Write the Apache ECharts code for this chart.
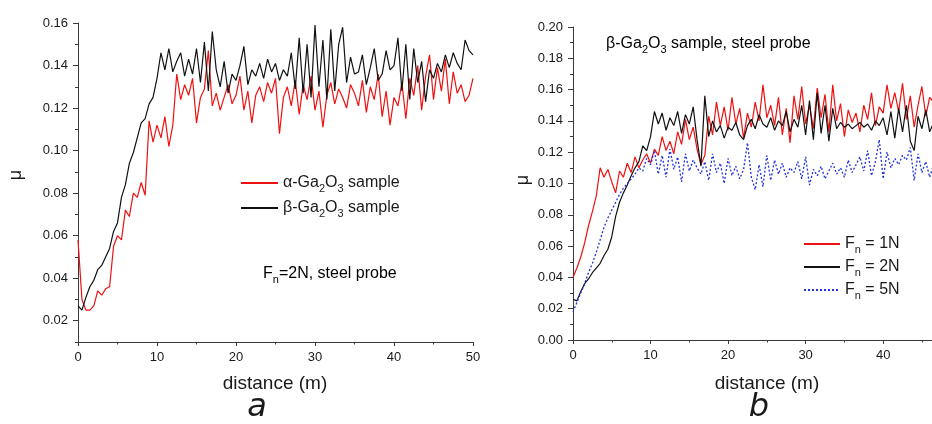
<!DOCTYPE html>
<html><head><meta charset="utf-8">
<script src="https://cdn.jsdelivr.net/npm/echarts@6/dist/echarts.min.js"></script>
<style>html,body{margin:0;padding:0;background:#fff}#c{width:932px;height:424px}</style>
</head><body><div id="c"></div>
<script>
// ---------- data ----------
// panel a: sampled every 0.5 m, 0..50 m
const stepA = 0.5;
const muAlphaA = [
0.058,0.030,0.025,0.025,0.027,0.034,0.032,0.035,0.036,0.055,
0.060,0.058,0.072,0.069,0.080,0.078,0.085,0.079,0.114,0.104,
0.112,0.106,0.116,0.102,0.112,0.136,0.124,0.131,0.126,0.134,
0.113,0.125,0.129,0.147,0.121,0.127,0.119,0.125,0.131,0.122,
0.126,0.135,0.119,0.128,0.113,0.126,0.130,0.123,0.132,0.127,
0.134,0.108,0.125,0.130,0.121,0.133,0.117,0.131,0.124,0.135,
0.119,0.128,0.111,0.126,0.132,0.122,0.129,0.125,0.120,0.131,
0.127,0.121,0.133,0.118,0.130,0.124,0.136,0.116,0.128,0.112,
0.125,0.121,0.132,0.115,0.134,0.126,0.140,0.119,0.135,0.145,
0.124,0.139,0.128,0.143,0.122,0.137,0.127,0.131,0.123,0.126,
0.134];
const muBetaA = [
0.027,0.025,0.031,0.036,0.039,0.044,0.046,0.050,0.054,0.062,
0.066,0.078,0.084,0.094,0.099,0.106,0.113,0.115,0.122,0.125,
0.134,0.146,0.138,0.148,0.137,0.142,0.146,0.135,0.143,0.136,
0.148,0.132,0.151,0.128,0.156,0.138,0.130,0.142,0.127,0.136,
0.133,0.140,0.149,0.131,0.138,0.135,0.141,0.134,0.143,0.137,
0.141,0.133,0.138,0.135,0.146,0.129,0.153,0.127,0.150,0.125,
0.159,0.130,0.152,0.124,0.157,0.128,0.150,0.158,0.132,0.144,
0.136,0.137,0.145,0.131,0.139,0.148,0.133,0.136,0.147,0.138,
0.140,0.153,0.128,0.150,0.124,0.148,0.132,0.142,0.123,0.138,
0.134,0.141,0.137,0.145,0.139,0.146,0.141,0.138,0.152,0.147,
0.145];
// panel b: sampled every 0.5 m, 0..46.5 m
const stepB = 0.5;
const mu1N = [
0.040,0.046,0.053,0.062,0.073,0.082,0.092,0.110,0.104,0.109,
0.101,0.094,0.108,0.104,0.113,0.107,0.117,0.110,0.115,0.119,
0.113,0.122,0.118,0.130,0.121,0.127,0.119,0.133,0.125,0.141,
0.128,0.136,0.122,0.112,0.118,0.143,0.131,0.152,0.137,0.149,
0.134,0.155,0.138,0.148,0.129,0.145,0.136,0.152,0.140,0.163,
0.142,0.150,0.137,0.155,0.131,0.148,0.126,0.156,0.141,0.162,
0.138,0.150,0.135,0.161,0.142,0.157,0.133,0.163,0.140,0.151,
0.130,0.147,0.139,0.145,0.133,0.150,0.141,0.158,0.137,0.149,
0.145,0.163,0.148,0.158,0.146,0.164,0.141,0.156,0.136,0.150,
0.162,0.143,0.155,0.152];
const mu2N = [
0.026,0.025,0.031,0.036,0.039,0.043,0.046,0.049,0.054,0.058,
0.066,0.079,0.088,0.094,0.099,0.105,0.110,0.114,0.124,0.121,
0.130,0.146,0.138,0.145,0.134,0.142,0.137,0.146,0.132,0.144,
0.138,0.149,0.128,0.111,0.156,0.130,0.140,0.133,0.137,0.129,
0.136,0.134,0.139,0.131,0.128,0.137,0.141,0.135,0.144,0.138,
0.136,0.142,0.134,0.140,0.137,0.146,0.133,0.141,0.136,0.150,
0.131,0.153,0.128,0.158,0.132,0.150,0.127,0.148,0.135,0.139,
0.136,0.138,0.135,0.137,0.139,0.136,0.138,0.134,0.140,0.137,
0.142,0.131,0.146,0.129,0.148,0.133,0.150,0.127,0.121,0.143,
0.135,0.147,0.133,0.139];
const mu5N = [
0.018,0.024,0.030,0.036,0.043,0.049,0.056,0.064,0.072,0.078,
0.083,0.088,0.093,0.097,0.100,0.103,0.106,0.110,0.108,0.116,
0.112,0.121,0.106,0.118,0.104,0.122,0.109,0.117,0.101,0.119,
0.108,0.115,0.110,0.106,0.114,0.102,0.119,0.107,0.113,0.100,
0.116,0.105,0.111,0.103,0.109,0.126,0.104,0.096,0.112,0.098,
0.118,0.102,0.115,0.106,0.113,0.104,0.110,0.107,0.114,0.103,
0.117,0.099,0.109,0.105,0.111,0.103,0.108,0.113,0.106,0.110,
0.104,0.115,0.107,0.112,0.117,0.108,0.121,0.105,0.114,0.128,
0.103,0.120,0.110,0.116,0.112,0.118,0.115,0.123,0.102,0.119,
0.107,0.114,0.104,0.112];
// tick labels
const yTicksA = [0.02,0.04,0.06,0.08,0.10,0.12,0.14,0.16];
const yMinorA = [0.01,0.03,0.05,0.07,0.09,0.11,0.13,0.15];
const xTicksA = [0,10,20,30,40,50];
const xTicksB = [0,10,20,30,40];
const xMinorB = [5,15,25,35,45];
const namesA = ['α-Ga2O3 sample','β-Ga2O3 sample'];
const namesB = ['Fn = 1N','Fn = 2N','Fn = 5N'];

// ---------- chart ----------
const FF = '"Liberation Sans", Arial, sans-serif';
const TXT = '#1a1a1a';
const AX = '#3a3a3a';
const pairs = (arr, step) => arr.map((v, i) => [i * step, v]);
const rich = {
  n: {fontSize: 16, fontFamily: FF, color: TXT, lineHeight: 16, verticalAlign: 'top'},
  s: {fontSize: 11, fontFamily: FF, color: TXT, lineHeight: 10, padding: [8, 0, 0, 0], verticalAlign: 'top'}
};
const richName = {
  'α-Ga2O3 sample': '{n|α-Ga}{s|2}{n|O}{s|3}{n| sample}',
  'β-Ga2O3 sample': '{n|β-Ga}{s|2}{n|O}{s|3}{n| sample}',
  'Fn = 1N': '{n|F}{s|n}{n| = 1N}',
  'Fn = 2N': '{n|F}{s|n}{n| = 2N}',
  'Fn = 5N': '{n|F}{s|n}{n| = 5N}'
};
const axisLine = {show: true, lineStyle: {color: AX, width: 1}};
const lbl = {color: TXT, fontSize: 13, fontFamily: FF};

const chart = echarts.init(document.getElementById('c'), null, {renderer: 'canvas'});
const option = {
  animation: false,
  backgroundColor: '#fff',
  grid: [
    {left: 78, top: 23, width: 395, bottom: 82, containLabel: false},
    {left: 573, top: 27, right: 0, bottom: 84, containLabel: false}
  ],
  xAxis: [
    {gridIndex: 0, type: 'value', position: 'bottom', min: 0, max: 50, interval: 10,
     axisLine, axisTick: {show: true, length: 4, lineStyle: {color: AX}},
     minorTick: {show: true, splitNumber: 2, length: 2.5, lineStyle: {color: AX}},
     axisLabel: Object.assign({margin: 9}, lbl), splitLine: {show: false}},
    {gridIndex: 1, type: 'value', position: 'bottom', min: 0, max: 46.3,
     axisLine, axisTick: {show: true, length: 4, customValues: xTicksB, lineStyle: {color: AX}},
     axisLabel: Object.assign({margin: 9, customValues: xTicksB}, lbl), splitLine: {show: false}},
    {gridIndex: 1, type: 'value', position: 'bottom', offset: 0, min: 0, max: 46.3,
     axisLine: {show: false}, axisTick: {show: true, length: 2.5, customValues: xMinorB, lineStyle: {color: AX}},
     axisLabel: {show: false}, splitLine: {show: false}}
  ],
  yAxis: [
    {gridIndex: 0, type: 'value', position: 'left', min: 0.01, max: 0.16,
     axisLine, axisTick: {show: true, length: 5, customValues: yTicksA, lineStyle: {color: AX}},
     axisLabel: Object.assign({margin: 10, customValues: yTicksA, formatter: v => v.toFixed(2)}, lbl),
     splitLine: {show: false}},
    {gridIndex: 0, type: 'value', position: 'left', offset: 0, min: 0.01, max: 0.16,
     axisLine: {show: false}, axisTick: {show: true, length: 3, customValues: yMinorA, lineStyle: {color: AX}},
     axisLabel: {show: false}, splitLine: {show: false}},
    {gridIndex: 1, type: 'value', position: 'left', min: 0, max: 0.2, interval: 0.02,
     axisLine, axisTick: {show: true, length: 5, lineStyle: {color: AX}},
     minorTick: {show: true, splitNumber: 2, length: 3, lineStyle: {color: AX}},
     axisLabel: Object.assign({margin: 10, formatter: v => v.toFixed(2)}, lbl),
     splitLine: {show: false}}
  ],
  legend: [
    {data: namesA, orient: 'vertical', left: 240, top: 175, padding: 0, itemWidth: 37, itemHeight: 10, itemGap: 6,
     itemStyle: {opacity: 0}, formatter: n => richName[n], textStyle: {rich}, selectedMode: false},
    {data: namesB, orient: 'vertical', left: 803, top: 236, padding: 0, itemWidth: 36, itemHeight: 10, itemGap: 4,
     itemStyle: {opacity: 0}, formatter: n => richName[n], textStyle: {rich}, selectedMode: false}
  ],
  series: [
    {name: namesA[0], type: 'line', xAxisIndex: 0, yAxisIndex: 0, symbol: 'none',
     data: pairs(muAlphaA, stepA), lineStyle: {color: '#ee1111', width: 1.2}, itemStyle: {color: '#ee1111'}},
    {name: namesA[1], type: 'line', xAxisIndex: 0, yAxisIndex: 0, symbol: 'none',
     data: pairs(muBetaA, stepA), lineStyle: {color: '#111111', width: 1.2}, itemStyle: {color: '#111111'}},
    {name: namesB[0], type: 'line', xAxisIndex: 1, yAxisIndex: 2, symbol: 'none', clip: true,
     data: pairs(mu1N, stepB), lineStyle: {color: '#ee1111', width: 1.2}, itemStyle: {color: '#ee1111'}},
    {name: namesB[1], type: 'line', xAxisIndex: 1, yAxisIndex: 2, symbol: 'none', clip: true,
     data: pairs(mu2N, stepB), lineStyle: {color: '#111111', width: 1.2}, itemStyle: {color: '#111111'}},
    {name: namesB[2], type: 'line', xAxisIndex: 1, yAxisIndex: 2, symbol: 'none', clip: true,
     data: pairs(mu5N, stepB), lineStyle: {color: '#2233dd', width: 1.3, type: [2, 2]}, itemStyle: {color: '#2233dd'}}
  ],
  graphic: [
    {type: 'text', x: 263, y: 266, style: {text: '{n|F}{s|n}{n|=2N, steel probe}', rich}},
    {type: 'text', x: 606, y: 36, style: {text: '{n|β-Ga}{s|2}{n|O}{s|3}{n| sample, steel probe}', rich}},
    {type: 'text', x: 275, y: 384, style: {text: 'distance (m)', font: '19px ' + FF, fill: TXT, textAlign: 'center', textVerticalAlign: 'middle'}},
    {type: 'text', x: 767, y: 384, style: {text: 'distance (m)', font: '19px ' + FF, fill: TXT, textAlign: 'center', textVerticalAlign: 'middle'}},
    {type: 'text', x: 16, y: 175, rotation: Math.PI / 2, style: {text: 'μ', font: '18px ' + FF, fill: TXT, textAlign: 'center', textVerticalAlign: 'middle'}},
    {type: 'text', x: 523, y: 180, rotation: Math.PI / 2, style: {text: 'μ', font: '18px ' + FF, fill: TXT, textAlign: 'center', textVerticalAlign: 'middle'}},
    {type: 'text', x: 257, y: 408, style: {text: 'a', font: 'italic 32px "DejaVu Sans", sans-serif', fill: TXT, textAlign: 'center', textVerticalAlign: 'middle'}},
    {type: 'text', x: 759, y: 408, style: {text: 'b', font: 'italic 32px "DejaVu Sans", sans-serif', fill: TXT, textAlign: 'center', textVerticalAlign: 'middle'}}
  ]
};
chart.setOption(option);
</script>
</body></html>
